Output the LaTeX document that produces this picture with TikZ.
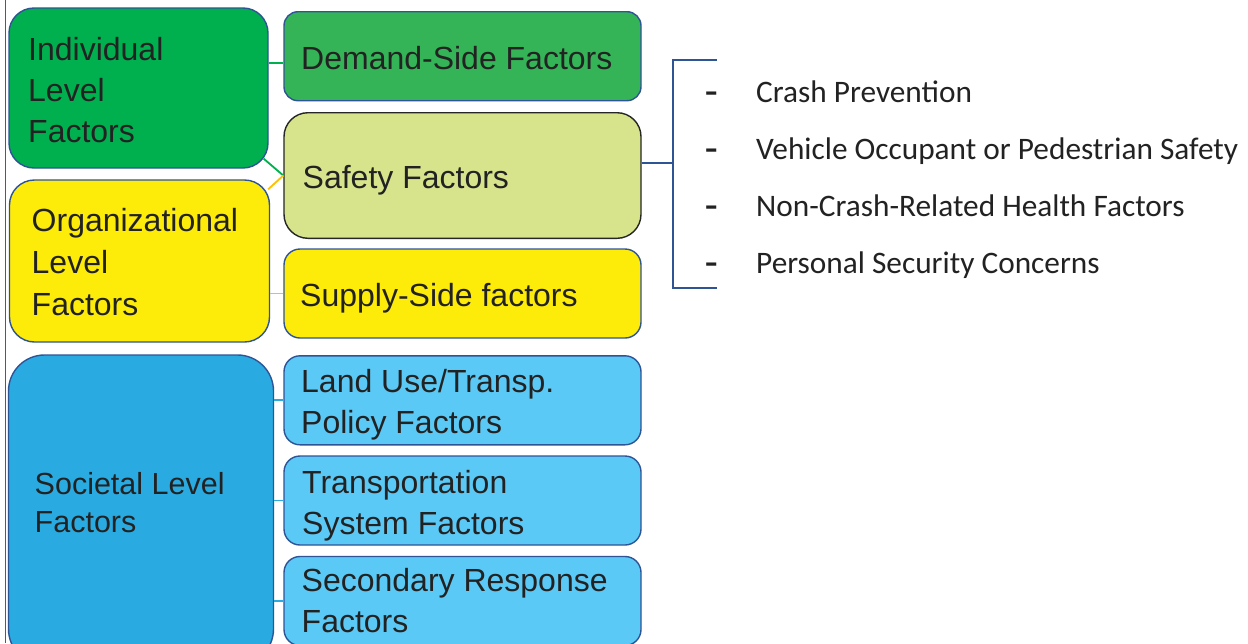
\documentclass[tikz,border=0pt]{standalone}
\usepackage{fontspec}
\setmainfont{Liberation Sans}
\newfontfamily\listfont{Carlito}
\definecolor{bordblue}{HTML}{2F5496}
\definecolor{indgreen}{HTML}{00B04F}
\definecolor{demgreen}{HTML}{34B457}
\definecolor{safelime}{HTML}{D7E48C}
\definecolor{safebord}{HTML}{262626}
\definecolor{orgyellow}{HTML}{FDEB0A}
\definecolor{socblue}{HTML}{29ABE2}
\definecolor{lightblue}{HTML}{5BC9F5}
\definecolor{connorange}{HTML}{FFC000}
\definecolor{txtcol}{HTML}{222222}
\newcommand{\fl}{\rule{0pt}{24pt}}
\newcommand{\listdash}{\makebox[51pt][l]{\scalebox{1.3}[1]{\bfseries -}}}
\begin{document}
\begin{tikzpicture}[x=1pt,y=-1pt,
  box/.style={draw=bordblue, line width=1.4pt, inner sep=0pt, rectangle},
  bigtxt/.style={anchor=north west, align=left, inner sep=0pt, text=txtcol,
     font=\fontsize{32}{41}\selectfont},
  listtxt/.style={anchor=base west, inner sep=0pt, text=txtcol,
     font=\listfont\fontsize{31.3}{37}\selectfont},
  conn/.style={line width=1.8pt},
  bracket/.style={draw=bordblue, line width=1.6pt}]
\useasboundingbox (0,0) rectangle (1248,643);
\clip (0,0) rectangle (1248,643);
\fill[white] (0,0) rectangle (1248,643);
\draw[line width=0.9pt, draw=black!65] (5.5,0) -- (5.5,643);

% left boxes
\node[box, fill=indgreen, rounded corners=25pt, minimum width=259pt, minimum height=160pt] (ind) at (138.5,88) {};
\node[box, fill=orgyellow, rounded corners=25pt, minimum width=260pt, minimum height=162pt] (org) at (139.5,261) {};
\node[box, fill=socblue, rounded corners=36pt, minimum width=265pt, minimum height=310pt] (soc) at (141,510) {};

% right boxes
\node[box, fill=demgreen, rounded corners=14pt, minimum width=357pt, minimum height=89pt] (dem) at (462.5,56.2) {};
\node[box, draw=safebord, fill=safelime, rounded corners=24pt, minimum width=357pt, minimum height=125.6pt] (safe) at (462.5,175.5) {};
\node[box, fill=orgyellow, rounded corners=16pt, minimum width=357pt, minimum height=89pt] (sup) at (462.5,293.5) {};
\node[box, fill=lightblue, rounded corners=16pt, minimum width=357pt, minimum height=89pt] (land) at (462.5,400.3) {};
\node[box, fill=lightblue, rounded corners=16pt, minimum width=357pt, minimum height=89pt] (trans) at (462.5,500.5) {};
\node[box, fill=lightblue, rounded corners=16pt, minimum width=357pt, minimum height=89pt] (sec) at (462.5,601) {};

% connectors
\draw[conn, draw=indgreen] (ind.east |- 0,63.3) -- (dem.west |- 0,63.3);
\draw[conn, draw=indgreen] ([xshift=-5pt,yshift=10pt]ind.south east) -- (safe.west);
\draw[conn, draw=connorange] ([xshift=-2pt,yshift=-10pt]org.north east) -- (safe.west);
\draw[conn, draw=connorange] (org.east |- sup.west) -- (sup.west);
\draw[conn, draw=socblue] (soc.east |- land.west) -- (land.west);
\draw[conn, draw=socblue] (soc.east |- trans.west) -- (trans.west);
\draw[conn, draw=socblue] (soc.east |- sec.west) -- (sec.west);

% bracket
\coordinate (bjoin) at (673,163);
\coordinate (btop) at (673,60);
\coordinate (bbot) at (673,288);
\coordinate (btopend) at (717,60);
\coordinate (bbotend) at (717,288);
\draw[bracket] (safe.east |- bjoin) -- (bjoin);
\draw[bracket] (btopend) -- (btop) -- (bbot) -- (bbotend);

% box texts
\node[bigtxt] (tind) at (28,36.3) {\fl Individual\\Level\\Factors};
\node[bigtxt] (tdem) at (301,45.3) {\fl Demand-Side Factors};
\node[bigtxt] (tsafe) at (302.5,164.3) {\fl Safety Factors};
\node[bigtxt, font=\fontsize{32}{41.6}\selectfont] (torg) at (31.5,207.7) {\fl Organizational\\Level\\Factors};
\node[bigtxt] (tsup) at (300,282.7) {\fl Supply-Side factors};
\node[bigtxt, font=\fontsize{30.5}{38.4}\selectfont] (tsoc) at (34.5,470) {\fl Societal Level\\Factors};
\node[bigtxt, font=\fontsize{32}{40.6}\selectfont] (tland) at (301,368.7) {\fl Land Use/Transp.\\Policy Factors};
\node[bigtxt, font=\fontsize{32}{40.7}\selectfont] (ttrans) at (302,469.3) {\fl Transportation\\System Factors};
\node[bigtxt] (tsec) at (301.5,567.7) {\fl Secondary Response\\Factors};

% list
\node[listtxt] (l1) at (705,102) {\listdash Crash Prevention};
\node[listtxt] (l2) at (705,159) {\listdash Vehicle Occupant or Pedestrian Safety};
\node[listtxt] (l3) at (705,216) {\listdash Non-Crash-Related Health Factors};
\node[listtxt] (l4) at (705,273) {\listdash Personal Security Concerns};
\end{tikzpicture}
\end{document}
